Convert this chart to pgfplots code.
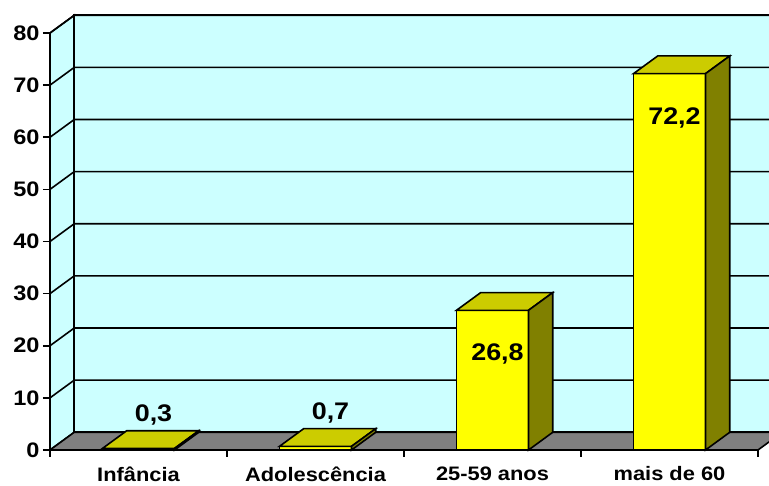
\documentclass[border=0pt]{standalone}
\usepackage{pgfplots}
\pgfplotsset{compat=1.18}
\usepackage{pgfplotstable}
\usepackage{fontspec}
\setmainfont{Liberation Sans}[FakeStretch=1.12]
\definecolor{wall}{HTML}{CCFFFF}
\definecolor{floorc}{HTML}{808080}
\definecolor{barfront}{HTML}{FFFF00}
\definecolor{bartop}{HTML}{CCCC00}
\definecolor{barside}{HTML}{808000}

\pgfplotstableread{
x v
0 0.3
1 0.7
2 26.8
3 72.2
}\datatable

\newcommand\ddx{0.137}
\newcommand\ddy{3.4}
\newcommand\hw{0.2035}

\begin{document}
\begin{tikzpicture}
\clip (0,0) rectangle (769pt,486pt);
\begin{axis}[
 at={(50pt,36pt)}, anchor=south west,
 scale only axis, width=708pt, height=417pt,
 xmin=-0.5, xmax=3.5, ymin=0, ymax=80,
 clip=false,
 axis x line*=bottom, axis y line*=left,
 axis line style={-, line width=1.6pt},
 tick align=outside, major tick length=7pt,
 tick style={black, line width=1.6pt},
 xtick={0,1,2,3},
 xticklabels={Infância, Adolescência, 25-59 anos, mais de 60},
 xtick style={draw=none},
 ytick={0,10,...,80},
 /pgf/number format/assume math mode=true,
 yticklabel style={font=\bfseries\fontsize{21}{21}\selectfont},
 xticklabel style={font=\bfseries\fontsize{19.5}{19.5}\selectfont, yshift=-6pt},
]
% left wall
\addplot[fill=wall, draw=black, line width=1.6pt] coordinates {(-0.5,0)(-0.363,3.4)(-0.363,83.4)(-0.5,80)} -- cycle;
% back wall
\addplot[fill=wall, draw=black, line width=1.6pt] coordinates {(-0.363,3.4)(3.637,3.4)(3.637,83.4)(-0.363,83.4)} -- cycle;
% grid lines
\pgfplotsinvokeforeach{10,20,30,40,50,60,70,80}{
  \pgfmathsetmacro\gb{#1+\ddy}
  \edef\doplot{\noexpand\addplot[black, line width=1.6pt] coordinates {(-0.5,#1)(-0.363,\gb)(3.637,\gb)};}
  \doplot
}
% floor
\addplot[fill=floorc, draw=black, line width=1.6pt] coordinates {(-0.5,0)(3.5,0)(3.637,3.4)(-0.363,3.4)} -- cycle;
% bar fronts
\addplot[ybar, bar width=0.407, fill=barfront, draw=black, line width=1.6pt,
  visualization depends on={\thisrow{v} \as \rawy},
  nodes near coords={\pgfmathprintnumber[fixed,fixed zerofill,precision=1,use comma,assume math mode=true]{\pgfplotspointmeta}},
  every node near coord/.append style={font=\bfseries\fontsize{24}{24}\selectfont, anchor=center,
     xshift={(\rawy<10)?15:5}, yshift={(\rawy<10)?33:-44}}
] table[x=x,y=v] {\datatable};
% bar tops and sides
\pgfplotsinvokeforeach{0,1,2,3}{
  \pgfplotstablegetelem{#1}{v}\of\datatable
  \let\val\pgfplotsretval
  \pgfmathsetmacro\xl{#1-\hw}
  \pgfmathsetmacro\xr{#1+\hw}
  \pgfmathsetmacro\xlb{#1-\hw+\ddx}
  \pgfmathsetmacro\xrb{#1+\hw+\ddx}
  \pgfmathsetmacro\vt{\val+\ddy}
  \edef\doplot{\noexpand\addplot[fill=bartop, draw=black, line width=1.6pt] coordinates {(\xl,\val)(\xr,\val)(\xrb,\vt)(\xlb,\vt)} -- cycle;
   \noexpand\addplot[fill=barside, draw=black, line width=1.6pt] coordinates {(\xr,0)(\xr,\val)(\xrb,\vt)(\xrb,\ddy)} -- cycle;}
  \doplot
}
% category boundary ticks
\pgfplotsinvokeforeach{-0.5,0.5,1.5,2.5,3.5}{
  \draw[black, line width=1.6pt] (axis cs:#1,0) -- ([yshift=-7pt]axis cs:#1,0);
}
\end{axis}
\end{tikzpicture}
\end{document}
